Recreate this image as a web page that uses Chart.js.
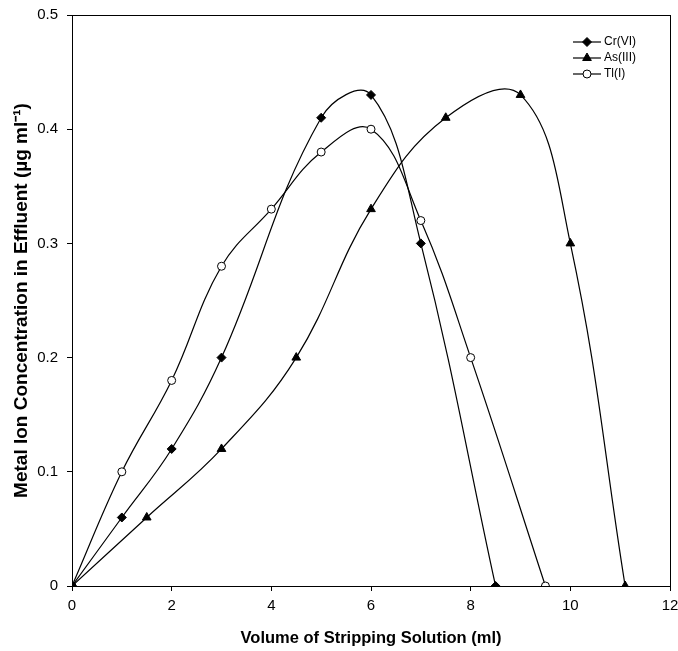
<!DOCTYPE html>
<html>
<head>
<meta charset="utf-8">
<script src="https://cdn.jsdelivr.net/npm/chart.js@4"></script>
<style>
  html, body { margin: 0; padding: 0; background: #fff; }
  #wrap { width: 678px; height: 651px; }
</style>
</head>
<body>
<div id="wrap"><canvas id="chart" width="678" height="651"></canvas></div>
<script>
const crX = [0, 1, 2, 3, 5, 6, 7, 8.5];
const crY = [0, 0.06, 0.12, 0.2, 0.41, 0.43, 0.3, 0];
const asX = [0, 1.5, 3, 4.5, 6, 7.5, 9, 10, 11.1];
const asY = [0, 0.06, 0.12, 0.2, 0.33, 0.41, 0.43, 0.3, 0];
const tlX = [0, 1, 2, 3, 4, 5, 6, 7, 8, 9.5];
const tlY = [0, 0.1, 0.18, 0.28, 0.33, 0.38, 0.4, 0.32, 0.2, 0];
const seriesNames = ["Cr(VI)", "As(III)", "Tl(I)"];

const font = "'Liberation Sans', Arial, sans-serif";

function pts(xs, ys) {
  return xs.map((x, i) => ({ x: x, y: ys[i] }));
}

const styles = [
  { pointStyle: "rectRot", radius: 4.5, fill: "#000" },
  { pointStyle: "triangle", radius: 5, fill: "#000" },
  { pointStyle: "circle", radius: 4, fill: "#fff" }
];

// frame round the plot area
const framePlugin = {
  id: "frame",
  afterDraw(chart) {
    const { ctx, chartArea: a } = chart;
    ctx.save();
    ctx.strokeStyle = "#000";
    ctx.lineWidth = 1;
    ctx.strokeRect(a.left + 0.5, a.top + 0.5, a.right - a.left, a.bottom - a.top);
    ctx.restore();
  }
};

// legend with line + marker samples
const legendPlugin = {
  id: "lineLegend",
  afterDraw(chart) {
    const ctx = chart.ctx;
    ctx.save();
    ctx.font = "12px " + font;
    ctx.textBaseline = "middle";
    seriesNames.forEach((name, i) => {
      const y = 42 + i * 16;
      ctx.strokeStyle = "#000";
      ctx.lineWidth = 1.2;
      ctx.beginPath();
      ctx.moveTo(573, y);
      ctx.lineTo(601, y);
      ctx.stroke();
      const s = styles[i];
      ctx.fillStyle = s.fill;
      ctx.lineWidth = 1;
      Chart.helpers.drawPoint(ctx, { pointStyle: s.pointStyle, radius: s.radius, borderWidth: 1 }, 587, y);
      ctx.fillStyle = "#000";
      ctx.fillText(name, 604, y);
    });
    ctx.restore();
  }
};

const datasets = [pts(crX, crY), pts(asX, asY), pts(tlX, tlY)].map((d, i) => ({
  label: seriesNames[i],
  data: d,
  borderColor: "#000",
  borderWidth: 1.2,
  tension: 0.4,
  pointStyle: styles[i].pointStyle,
  pointRadius: styles[i].radius,
  pointBackgroundColor: styles[i].fill,
  pointBorderColor: "#000",
  pointBorderWidth: 1,
  fill: false
}));

new Chart(document.getElementById("chart"), {
  type: "line",
  data: { datasets: datasets },
  options: {
    responsive: false,
    animation: false,
    layout: { padding: { top: 15, right: 8, left: 0, bottom: 0 } },
    plugins: {
      legend: { display: false },
      tooltip: { enabled: false }
    },
    scales: {
      x: {
        type: "linear",
        min: 0,
        max: 12,
        afterFit(scale) {
          scale.height = 65;
          scale.paddingRight = 0;
          scale.paddingLeft = 0;
        },
        ticks: { stepSize: 2, color: "#000", font: { family: font, size: 15 }, padding: 6, maxRotation: 0 },
        grid: { drawOnChartArea: false, drawTicks: true, tickLength: 5, color: "#000" },
        border: { color: "#000" },
        title: {
          display: true,
          text: "Volume of Stripping Solution (ml)",
          color: "#000",
          font: { family: font, size: 16.5, weight: "bold" },
          padding: { top: 6, bottom: 3 }
        }
      },
      y: {
        min: 0,
        max: 0.5,
        afterFit(scale) {
          scale.width = 72;
          scale.paddingTop = 0;
          scale.paddingBottom = 0;
        },
        ticks: { stepSize: 0.1, color: "#000", font: { family: font, size: 15 }, padding: 9 },
        grid: { drawOnChartArea: false, drawTicks: true, tickLength: 5, color: "#000" },
        border: { color: "#000" },
        title: {
          display: true,
          text: "Metal Ion Concentration in Effluent (µg ml⁻¹)",
          color: "#000",
          font: { family: font, size: 19, weight: "bold" },
          padding: { top: 10, bottom: 2 }
        }
      }
    }
  },
  plugins: [framePlugin, legendPlugin]
});
</script>
</body>
</html>
